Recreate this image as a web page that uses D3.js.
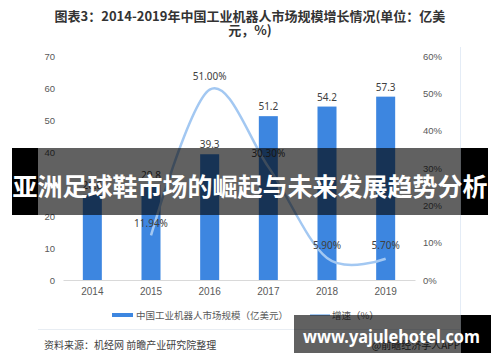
<!DOCTYPE html>
<html>
<head>
<meta charset="utf-8">
<script src="https://cdn.jsdelivr.net/npm/d3@7"></script>
<style>
  body { margin: 0; background: #fff; }
  svg { display: block; font-family: "Noto Sans", "Noto Sans CJK SC", sans-serif; }
</style>
</head>
<body>
<svg width="500" height="362"></svg>
<script>
// data
const years = ["2014", "2015", "2016", "2017", "2018", "2019"];
const marketSize = [26.6, 29.8, 39.3, 51.2, 54.2, 57.3];
const growthYears = ["2015", "2016", "2017", "2018", "2019"];
const growthRate = [0.1194, 0.51, 0.303, 0.059, 0.057];
const growthLabels = ["11.94%", "51.00%", "30.30%", "5.90%", "5.70%"];
const leftTicks = [0, 10, 20, 30, 40, 50, 60, 70];
const rightTicks = [0, 0.1, 0.2, 0.3, 0.4, 0.5, 0.6];

const barColor = "#3d86e0";
const lineColor = "#a3c8f2";
const cjk = "'Noto Sans CJK SC', sans-serif";

let svg = d3.select("svg");

let x = d3.scaleBand().domain(years).range([63, 415])
    .paddingInner(0.676).paddingOuter(0.338);
let yL = d3.scaleLinear().domain([0, 70]).range([280, 56]);
let yR = d3.scaleLinear().domain([0, 0.6]).range([280, 56]);

// title (two lines)
svg.append("text")
    .attr("x", 250).attr("y", 21)
    .attr("text-anchor", "middle")
    .style("font-family", cjk).style("font-weight", 700)
    .style("font-size", "13px").attr("fill", "#333")
    .text("图表3：2014-2019年中国工业机器人市场规模增长情况(单位：亿美");
svg.append("text")
    .attr("x", 250).attr("y", 35)
    .attr("text-anchor", "middle")
    .style("font-family", cjk).style("font-weight", 700)
    .style("font-size", "13px").attr("fill", "#333")
    .text("元，%)");

// faint right frame line
svg.append("line")
    .attr("x1", 460.5).attr("x2", 460.5).attr("y1", 47).attr("y2", 330)
    .attr("stroke", "#e4ecf6").attr("stroke-width", 1);

// left axis
let axL = svg.append("g")
    .attr("transform", "translate(59,0)")
    .call(d3.axisLeft(yL).tickValues(leftTicks).tickSize(0).tickPadding(4));
axL.select(".domain").remove();
axL.selectAll("text").attr("fill", "#595959").style("font-size", "9.5px");

// right axis
let axR = svg.append("g")
    .attr("transform", "translate(419,0)")
    .call(d3.axisRight(yR).tickValues(rightTicks).tickSize(0).tickPadding(4)
        .tickFormat(d3.format(".0%")));
axR.select(".domain").remove();
axR.selectAll("text").attr("fill", "#595959").style("font-size", "9.5px");

// bottom axis
let axB = svg.append("g")
    .attr("transform", "translate(0,280)")
    .call(d3.axisBottom(x).tickSize(0).tickPadding(8));
axB.select(".domain").attr("stroke", "#d9d9d9");
axB.selectAll("text").attr("fill", "#595959").style("font-size", "10px");

// bars
svg.selectAll(".bar")
    .data(marketSize)
    .enter()
    .append("rect")
    .classed("bar", true)
    .attr("x", (d, i) => x(years[i]))
    .attr("y", d => yL(d))
    .attr("width", x.bandwidth())
    .attr("height", d => yL(0) - yL(d))
    .attr("fill", barColor);

svg.selectAll(".barLabel")
    .data(marketSize)
    .enter()
    .append("text")
    .classed("barLabel", true)
    .attr("x", (d, i) => x(years[i]) + x.bandwidth() / 2)
    .attr("y", d => yL(d) - 6)
    .attr("text-anchor", "middle")
    .attr("fill", "#404040")
    .style("font-size", "10px")
    .text(d => d.toFixed(1));

// growth line
let cx = d => x(d) + x.bandwidth() / 2;
let line = d3.line()
    .x((d, i) => cx(growthYears[i]))
    .y(d => yR(d))
    .curve(d3.curveCardinal.tension(0));

svg.append("path")
    .datum(growthRate)
    .attr("d", line)
    .attr("fill", "none")
    .attr("stroke", lineColor)
    .attr("stroke-width", 2.5);

// growth labels
let labelY = [227, 80, 157, 249, 249];
svg.selectAll(".rateLabel")
    .data(growthLabels)
    .enter()
    .append("text")
    .classed("rateLabel", true)
    .attr("x", (d, i) => cx(growthYears[i]))
    .attr("y", (d, i) => labelY[i])
    .attr("text-anchor", "middle")
    .attr("fill", "#404040")
    .style("font-size", "10px")
    .text(d => d);

// legend
svg.append("rect")
    .attr("x", 112).attr("y", 313).attr("width", 21).attr("height", 4)
    .attr("fill", barColor);
svg.append("text")
    .attr("x", 136).attr("y", 319)
    .style("font-family", cjk).style("font-size", "9.5px")
    .attr("fill", "#595959")
    .text("中国工业机器人市场规模（亿美元）");
svg.append("line")
    .attr("x1", 310).attr("x2", 330).attr("y1", 315).attr("y2", 315)
    .attr("stroke", lineColor).attr("stroke-width", 2);
svg.append("text")
    .attr("x", 332).attr("y", 319)
    .style("font-family", cjk).style("font-size", "9.5px")
    .attr("fill", "#595959")
    .text("增速（%）");

// separator + source
svg.append("line")
    .attr("x1", 38).attr("x2", 460).attr("y1", 329.5).attr("y2", 329.5)
    .attr("stroke", "#e8edf3");
svg.append("text")
    .attr("x", 44).attr("y", 349)
    .style("font-family", cjk).style("font-size", "10px")
    .attr("fill", "#404040")
    .text("资料来源：机经网 前瞻产业研究院整理");
svg.append("text")
    .attr("x", 460).attr("y", 349)
    .attr("text-anchor", "end")
    .style("font-family", cjk).style("font-size", "10px")
    .attr("fill", "#404040")
    .text("@前瞻经济学人APP");

// banner overlay
let banner = svg.append("g");
banner.append("rect")
    .attr("x", 38).attr("y", 148).attr("width", 423).attr("height", 67)
    .attr("fill", "#000").attr("fill-opacity", 0.62);
banner.append("rect")
    .attr("x", 12).attr("y", 148).attr("width", 26).attr("height", 67)
    .attr("fill", "#000");
banner.append("rect")
    .attr("x", 461).attr("y", 148).attr("width", 27).attr("height", 67)
    .attr("fill", "#000");
banner.append("text")
    .attr("x", 250).attr("y", 185)
    .attr("text-anchor", "middle")
    .attr("dominant-baseline", "central")
    .style("font-family", cjk).style("font-weight", 700)
    .style("font-size", "25px")
    .attr("fill", "#fff")
    .text("亚洲足球鞋市场的崛起与未来发展趋势分析");

// site watermark box
let wm = svg.append("g");
wm.append("rect")
    .attr("x", 294).attr("y", 315).attr("width", 167).attr("height", 38)
    .attr("fill", "#000").attr("fill-opacity", 0.62);
wm.append("rect")
    .attr("x", 461).attr("y", 315).attr("width", 30).attr("height", 38)
    .attr("fill", "#000");
wm.append("text")
    .attr("x", 303).attr("y", 336)
    .attr("dominant-baseline", "central")
    .attr("textLength", 177).attr("lengthAdjust", "spacingAndGlyphs")
    .style("font-family", "'Noto Sans', sans-serif").style("font-weight", 700)
    .style("font-size", "18px")
    .attr("fill", "#fff")
    .text("www.yajulehotel.com");
</script>
</body>
</html>
